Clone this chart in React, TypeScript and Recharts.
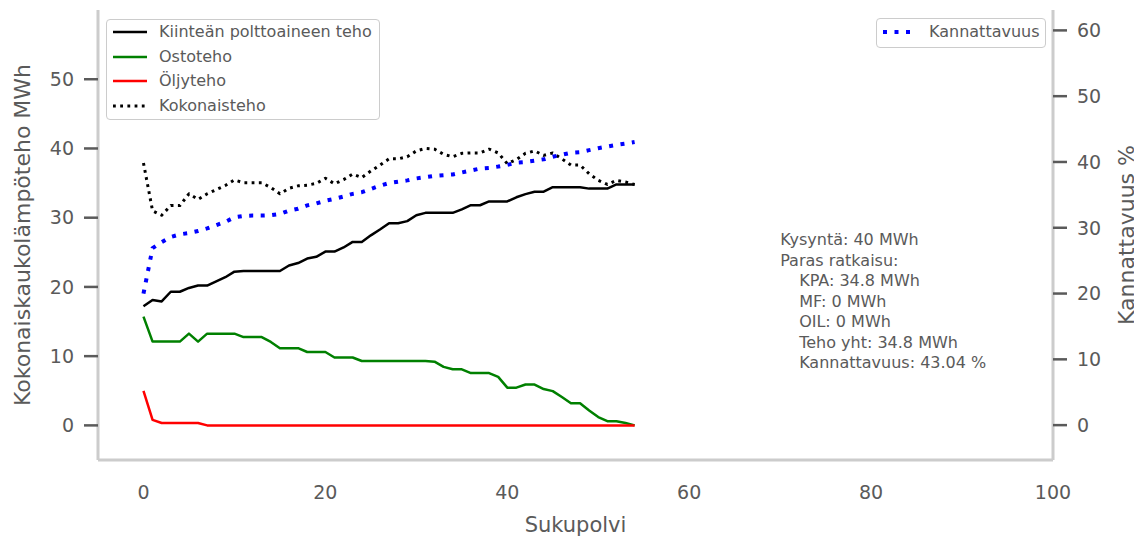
import React from 'react';
import { LineChart, Line, XAxis, YAxis, Legend, ReferenceDot } from 'recharts';

// Kiinteän polttoaineen teho (MWh) per sukupolvi
const kiintea = [
  17.2, 18.1, 17.9, 19.3, 19.3, 19.85, 20.2, 20.2, 20.8, 21.4,
  22.2, 22.3, 22.3, 22.3, 22.3, 22.3, 23.1, 23.45, 24.1, 24.35,
  25.1, 25.1, 25.7, 26.5, 26.5, 27.45, 28.3, 29.2, 29.2, 29.5,
  30.35, 30.7, 30.7, 30.7, 30.7, 31.2, 31.8, 31.8, 32.35, 32.35,
  32.35, 32.95, 33.4, 33.75, 33.75, 34.4, 34.4, 34.4, 34.4, 34.2,
  34.2, 34.2, 34.8, 34.8, 34.8,
];

// Ostoteho (MWh)
const ostoteho = [
  15.7, 12.1, 12.1, 12.1, 12.1, 13.25, 12.1, 13.25, 13.25, 13.25,
  13.25, 12.75, 12.75, 12.75, 12.05, 11.15, 11.15, 11.15, 10.6, 10.6,
  10.6, 9.8, 9.8, 9.8, 9.3, 9.3, 9.3, 9.3, 9.3, 9.3,
  9.3, 9.3, 9.2, 8.45, 8.1, 8.1, 7.55, 7.55, 7.55, 7.0,
  5.45, 5.45, 5.9, 5.9, 5.25, 4.95, 4.1, 3.2, 3.2, 2.15,
  1.2, 0.6, 0.6, 0.35, 0,
];

// Öljyteho (MWh)
const oljyteho = [
  5.0, 0.8, 0.35, 0.35, 0.35, 0.35, 0.35, 0, 0, 0,
  0, 0, 0, 0, 0, 0, 0, 0, 0, 0,
  0, 0, 0, 0, 0, 0, 0, 0, 0, 0,
  0, 0, 0, 0, 0, 0, 0, 0, 0, 0,
  0, 0, 0, 0, 0, 0, 0, 0, 0, 0,
  0, 0, 0, 0, 0,
];

// Kokonaisteho (MWh)
const kokonaisteho = [
  37.9, 31.0, 30.35, 31.75, 31.75, 33.45, 32.65, 33.45, 34.05, 34.65,
  35.45, 35.05, 35.05, 35.05, 34.35, 33.45, 34.25, 34.6, 34.7, 34.95,
  35.7, 34.9, 35.5, 36.3, 35.8, 36.75, 37.6, 38.5, 38.5, 38.8,
  39.65, 40.0, 39.9, 39.15, 38.8, 39.3, 39.35, 39.35, 39.9, 39.35,
  37.8, 38.4, 39.3, 39.65, 39.0, 39.35, 38.5, 37.6, 37.6, 36.35,
  35.4, 34.8, 35.4, 35.15, 34.8,
];

// Kannattavuus (%)
const kannattavuus = [
  20.0, 26.9, 27.8, 28.6, 29.0, 29.2, 29.5, 29.9, 30.4, 30.9,
  31.6, 31.8, 31.85, 31.85, 31.9, 32.1, 32.6, 32.9, 33.4, 33.7,
  34.1, 34.4, 34.75, 35.15, 35.4, 35.9, 36.4, 36.8, 37.0, 37.2,
  37.5, 37.7, 37.9, 38.0, 38.1, 38.4, 38.7, 39.0, 39.1, 39.3,
  39.55, 39.9, 40.0, 40.2, 40.4, 40.8, 41.1, 41.4, 41.5, 41.8,
  42.1, 42.35, 42.6, 42.8, 43.04,
];

const sukupolvet = kiintea.map((_, i) => i);

const xTicks = [0, 20, 40, 60, 80, 100];
const leftTicks = [0, 10, 20, 30, 40, 50];
const rightTicks = [0, 10, 20, 30, 40, 50, 60];

const kysynta = 40;

const rows = sukupolvet.map((s, i) => ({
  sukupolvi: s,
  kiintea: kiintea[i],
  ostoteho: ostoteho[i],
  oljyteho: oljyteho[i],
  kokonaisteho: kokonaisteho[i],
  kannattavuus: kannattavuus[i],
}));

const W = 1134;
const H = 532;
const FONT = "'DejaVu Sans', sans-serif";
const TEXT = '#5a5a5a';
const SPINE = '#cccccc';
const TICK = '#5a5a5a';

type SeriesStyle = {
  key: string;
  name: string;
  color: string;
  width: number;
  dash?: string;
  axis: 'left' | 'right';
};

const series: SeriesStyle[] = [
  { key: 'kiintea', name: 'Kiinteän polttoaineen teho', color: '#000000', width: 2.5, axis: 'left' },
  { key: 'ostoteho', name: 'Ostoteho', color: '#008000', width: 2.5, axis: 'left' },
  { key: 'oljyteho', name: 'Öljyteho', color: '#ff0000', width: 2.5, axis: 'left' },
  { key: 'kokonaisteho', name: 'Kokonaisteho', color: '#000000', width: 3, dash: '2.8 4.4', axis: 'left' },
  { key: 'kannattavuus', name: 'Kannattavuus', color: '#0000ff', width: 4, dash: '4 7.5', axis: 'right' },
];

const last = kiintea.length - 1;
const annotationLines: { text: string; indent: boolean }[] = [
  { text: `Kysyntä: ${kysynta} MWh`, indent: false },
  { text: 'Paras ratkaisu:', indent: false },
  { text: `KPA: ${kiintea[last]} MWh`, indent: true },
  { text: `MF: ${ostoteho[last]} MWh`, indent: true },
  { text: `OIL: ${oljyteho[last]} MWh`, indent: true },
  { text: `Teho yht: ${kokonaisteho[last]} MWh`, indent: true },
  { text: `Kannattavuus: ${kannattavuus[last].toFixed(2)} %`, indent: true },
];

const boxStyle: React.CSSProperties = {
  position: 'absolute',
  background: 'rgba(255,255,255,0.85)',
  border: `1.5px solid ${SPINE}`,
  borderRadius: 4,
  boxSizing: 'border-box',
  fontFamily: FONT,
  fontSize: 16,
  color: TEXT,
};

const LegendRow = ({ s }: { s: SeriesStyle }) => (
  <div style={{ display: 'flex', alignItems: 'center', height: 24.5, whiteSpace: 'nowrap' }}>
    <svg width={46} height={8} style={{ marginLeft: 6, flex: 'none' }}>
      <line
        x1={0}
        y1={4}
        x2={34}
        y2={4}
        stroke={s.color}
        strokeWidth={s.width}
        strokeDasharray={s.dash}
        strokeLinecap="butt"
      />
    </svg>
    <span style={{ lineHeight: '24.5px' }}>{s.name}</span>
  </div>
);

const renderLegend = () => {
  const leftSeries = series.filter((s) => s.axis === 'left');
  const rightSeries = series.filter((s) => s.axis === 'right');
  return (
    <div style={{ position: 'relative', width: W, height: 0 }}>
      <div style={{ ...boxStyle, left: 98, top: 11, width: 274, height: 101, paddingTop: 0 }}>
        {leftSeries.map((s) => (
          <LegendRow key={s.key} s={s} />
        ))}
      </div>
      <div style={{ ...boxStyle, left: 868, top: 10, width: 170, height: 30, paddingTop: 1 }}>
        {rightSeries.map((s) => (
          <LegendRow key={s.key} s={s} />
        ))}
      </div>
    </div>
  );
};

const axisTitle = (text: string, dx: number, dy: number, rotate: boolean, size: number) => (props: any) => {
  const vb = props.viewBox || {};
  const x = rotate ? vb.x + dx : vb.x + vb.width / 2;
  const y = rotate ? vb.y + vb.height / 2 : vb.y + dy;
  return (
    <text
      x={x}
      y={y}
      textAnchor="middle"
      dominantBaseline="central"
      transform={rotate ? `rotate(-90, ${x}, ${y})` : undefined}
      fill={TEXT}
      fontSize={size}
      fontFamily={FONT}
    >
      {text}
    </text>
  );
};

const renderAnnotation = (props: any) => {
  const vb = props.viewBox || {};
  const x = vb.x + (vb.width || 0) / 2;
  const y = vb.y + (vb.height || 0) / 2;
  return (
    <g>
      {annotationLines.map((l, i) => (
        <text
          key={i}
          x={x + (l.indent ? 19 : 0)}
          y={y + i * 20.5}
          fill={TEXT}
          fontSize={16}
          fontFamily={FONT}
        >
          {l.text}
        </text>
      ))}
    </g>
  );
};

const tickStyle = { fill: TEXT, fontSize: 19, fontFamily: FONT };
const spineStyle = { stroke: SPINE, strokeWidth: 3 };
const tickLineStyle = { stroke: TICK, strokeWidth: 2.5 };

export default function App() {
  return (
    <div style={{ width: W, height: H, fontFamily: FONT }}>
      <LineChart width={W} height={H} data={rows} margin={{ top: 2, right: 0, bottom: 0, left: 0 }}>
        <XAxis
          dataKey="sukupolvi"
          type="number"
          domain={[-5, 100]}
          ticks={xTicks}
          interval={0}
          height={80}
          axisLine={spineStyle}
          tickLine={false}
          tickSize={0}
          tickMargin={26}
          tick={tickStyle}
          label={{ content: axisTitle('Sukupolvi', 0, 65, false, 21) }}
        />
        <YAxis
          yAxisId="left"
          orientation="left"
          width={90}
          type="number"
          domain={[-5, 60]}
          ticks={leftTicks}
          interval={0}
          axisLine={spineStyle}
          tickLine={tickLineStyle}
          tickSize={14}
          tickMargin={10}
          tick={tickStyle}
          label={{ content: axisTitle('Kokonaiskaukolämpöteho MWh', 14.5, 0, true, 22) }}
        />
        <YAxis
          yAxisId="right"
          orientation="right"
          width={89}
          type="number"
          domain={[-5.3, 63.1]}
          ticks={rightTicks}
          interval={0}
          axisLine={spineStyle}
          tickLine={tickLineStyle}
          tickSize={14}
          tickMargin={10}
          tick={tickStyle}
          label={{ content: axisTitle('Kannattavuus %', 73, 0, true, 22) }}
        />
        {series.map((s) => (
          <Line
            key={s.key}
            yAxisId={s.axis}
            type="linear"
            dataKey={s.key}
            name={s.name}
            stroke={s.color}
            strokeWidth={s.width}
            strokeDasharray={s.dash}
            strokeLinecap="butt"
            strokeLinejoin="round"
            dot={false}
            activeDot={false}
            isAnimationActive={false}
          />
        ))}
        <ReferenceDot
          yAxisId="left"
          x={70}
          y={26}
          r={1}
          fill="none"
          stroke="none"
          label={{ content: renderAnnotation }}
        />
        <Legend
          layout="horizontal"
          verticalAlign="middle"
          align="center"
          content={renderLegend}
          wrapperStyle={{ left: 0, top: 0, width: W, height: 0, margin: 0 }}
        />
      </LineChart>
    </div>
  );
}
